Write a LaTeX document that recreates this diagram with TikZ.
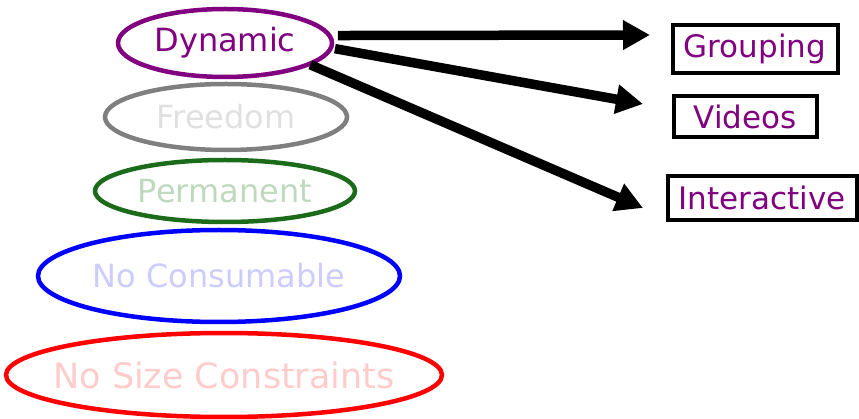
\documentclass[tikz,border=0pt]{standalone}
\usepackage{fontspec}
\setmainfont{DejaVu Sans}
\usetikzlibrary{shapes.geometric,arrows.meta}
\definecolor{dynpurple}{HTML}{800080}
\definecolor{freegray}{HTML}{7F7F7F}
\definecolor{permgreen}{HTML}{1B6B1B}

\begin{document}
\begin{tikzpicture}[x=1pt,y=-1pt,
	oval/.style={ellipse,draw,line width=4.5pt,inner sep=0pt,font=\fontsize{32}{34}\selectfont},
	tag/.style={rectangle,draw=black,line width=4pt,inner sep=0pt,text=dynpurple,font=\fontsize{31}{33}\selectfont},
	arr/.style={line width=9.5pt,-{Triangle[length=27pt,width=28pt]}}]
				\useasboundingbox (0,0) rectangle (859,419);
				
				\node[oval,draw=dynpurple,text=dynpurple,minimum width=214,minimum height=68] (dyn) at (225,43) {Dynamic};
				\node[oval,draw=freegray,text=black!12,minimum width=242,minimum height=66] (free) at (226,117) {Freedom};
				\node[oval,draw=permgreen,text=green!40!black!25,minimum width=260,minimum height=62] (perm) at (225,191) {Permanent};
				\node[oval,draw=blue,text=blue!20,minimum width=362,minimum height=92] (cons) at (219,276) {No Consumable};
				\node[oval,draw=red,text=red!20,minimum width=436,minimum height=84,inner xsep=-60pt,font=\fontsize{35}{37}\selectfont] (size) at (224,375) {No Size Constraints};
				
				\node[tag,minimum width=165,minimum height=48] (grp) at (755,49) {Grouping};
				\node[tag,minimum width=143,minimum height=41] (vid) at (745,117) {Videos};
				\node[tag,minimum width=189,minimum height=44] (intr) at (762,198) {Interactive};
				
				\coordinate (grpin) at (650,35);
				\coordinate (vidin) at (643,104);
				\coordinate (intrin) at (643,208);
				
				\draw[arr] ([xshift=6pt]dyn.4) -- (grpin);
				\draw[arr] ([xshift=2pt]dyn.-3) -- (vidin);
				\draw[arr] ([xshift=-2pt]dyn.-14) -- (intrin);
			\end{tikzpicture}
\end{document}
